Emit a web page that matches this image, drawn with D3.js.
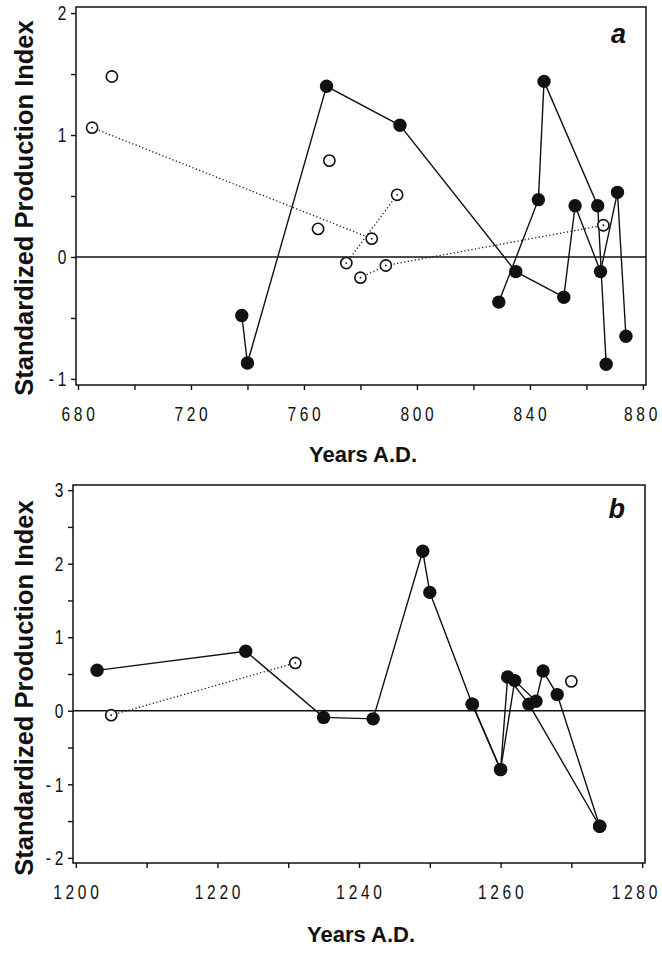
<!DOCTYPE html>
<html>
<head>
<meta charset="utf-8">
<script src="https://cdn.jsdelivr.net/npm/d3@7"></script>
<style>
  body { margin: 0; background: #fff; }
  svg { display: block; }
  .tick text { font-family: "Liberation Sans", Arial, sans-serif; font-size: 21px; letter-spacing: 5px; fill: #111; }
  .tick line { stroke: #111; stroke-width: 1.4; }
  .axis-title { font-family: "Liberation Sans", Arial, sans-serif; font-weight: bold; fill: #111; }
</style>
</head>
<body>
<svg id="chart" width="662" height="953"></svg>
<script>
// ---- panel a : 680-880 A.D. ----
const aSolid1Years  = [738, 740, 768, 794, 835, 852, 856, 865, 871, 874];
const aSolid1Values = [-0.48, -0.87, 1.40, 1.08, -0.12, -0.33, 0.42, -0.12, 0.53, -0.65];
const aSolid2Years  = [829, 843, 845, 864, 867];
const aSolid2Values = [-0.37, 0.47, 1.44, 0.42, -0.88];
const aDotted1Years  = [685, 784];
const aDotted1Values = [1.06, 0.15];
const aDotted2Years  = [775, 793];
const aDotted2Values = [-0.05, 0.51];
const aDotted3Years  = [780, 789, 866];
const aDotted3Values = [-0.17, -0.07, 0.26];
const aOpenYears  = [692, 765, 769];
const aOpenValues = [1.48, 0.23, 0.79];
const aXTicks = [680, 720, 760, 800, 840, 880];
const aYTicks = [-1, 0, 1, 2];

// ---- panel b : 1200-1280 A.D. ----
const bSolid1Years  = [1203, 1224, 1235, 1242, 1249, 1250, 1256, 1260, 1261, 1264, 1274];
const bSolid1Values = [0.55, 0.81, -0.09, -0.11, 2.17, 1.61, 0.09, -0.80, 0.46, 0.09, -1.57];
const bSolid2Years  = [1256, 1260, 1262, 1265, 1266, 1268, 1274];
const bSolid2Values = [0.09, -0.80, 0.41, 0.13, 0.54, 0.22, -1.57];
const bDotted1Years  = [1205, 1231];
const bDotted1Values = [-0.06, 0.65];
const bOpenYears  = [1270];
const bOpenValues = [0.40];
const bXTicks = [1200, 1220, 1240, 1260, 1280];
const bYTicks = [-2, -1, 0, 1, 2, 3];

const zip = (xs, ys) => xs.map((x, i) => ({ year: x, value: ys[i] }));
const narrow = 0.74; // squeeze tick digits like the original narrow typeface

const svg = d3.select("#chart");

function drawPanel(p) {
  const x = d3.scaleLinear().domain(p.xDomain).range([p.left, p.right]);
  const y = d3.scaleLinear().domain(p.yDomain).range([p.bottom, p.top]);
  const g = svg.append("g");

  // frame
  g.append("rect")
    .attr("x", p.left).attr("y", p.top)
    .attr("width", p.right - p.left).attr("height", p.bottom - p.top)
    .attr("fill", "none").attr("stroke", "#111").attr("stroke-width", 1.5);

  // zero line
  g.append("line")
    .attr("x1", p.left).attr("x2", p.right)
    .attr("y1", y(0)).attr("y2", y(0))
    .attr("stroke", "#111").attr("stroke-width", 1.5);

  // axes (major + minor ticks, labels only on majors)
  const yAxis = d3.axisLeft(y)
    .tickValues(d3.range(p.yTicks[0], p.yTicks[p.yTicks.length - 1] + 0.01, 0.5))
    .tickSize(5).tickSizeOuter(0).tickPadding(0)
    .tickFormat(d => p.yTicks.includes(d) ? d3.format("d")(d).replace("−", "-") : "");
  g.append("g").attr("transform", `translate(${p.left},0)`).call(yAxis)
    .call(s => s.select(".domain").remove())
    .call(s => s.selectAll("text")
      .attr("x", -6 / narrow)
      .attr("transform", `scale(${narrow},1)`));

  const xAxis = d3.axisBottom(x)
    .tickValues(d3.range(p.xTicks[0], p.xTicks[p.xTicks.length - 1] + 1, p.minorStep))
    .tickSize(5).tickSizeOuter(0).tickPadding(p.xPad)
    .tickFormat(d => p.xTicks.includes(d) ? d : "");
  g.append("g").attr("transform", `translate(0,${p.bottom})`).call(xAxis)
    .call(s => s.select(".domain").remove())
    .call(s => s.selectAll("text")
      .attr("dx", 2)
      .attr("transform", `scale(${narrow},1)`))
    // keep the last year label inside the page
    .call(s => s.selectAll("text").each(function() {
      const over = this.getBoundingClientRect().right - 661;
      if (over > 0) d3.select(this).attr("dx", 2 - over / narrow);
    }));

  const line = d3.line().x(d => x(d.year)).y(d => y(d.value));

  // dotted series (open circles)
  p.dotted.forEach(s => {
    g.append("path").datum(s).attr("d", line)
      .attr("fill", "none").attr("stroke", "#111")
      .attr("stroke-width", 1.3).attr("stroke-dasharray", "1.2,2.4");
  });

  // solid series (filled circles)
  p.solid.forEach(s => {
    g.append("path").datum(s).attr("d", line)
      .attr("fill", "none").attr("stroke", "#111").attr("stroke-width", 1.4);
  });

  const openPts = p.dotted.flat().concat(p.open);
  g.selectAll(".open").data(openPts).join("circle")
    .attr("cx", d => x(d.year)).attr("cy", d => y(d.value)).attr("r", 5.6)
    .attr("fill", "#fff").attr("stroke", "#111").attr("stroke-width", 1.6);
  g.selectAll(".cdot").data(p.dotted.flat()).join("circle")
    .attr("cx", d => x(d.year)).attr("cy", d => y(d.value)).attr("r", 0.9)
    .attr("fill", "#111");

  g.selectAll(".filled").data(p.solid.flat()).join("circle")
    .attr("cx", d => x(d.year)).attr("cy", d => y(d.value)).attr("r", 6.7)
    .attr("fill", "#111");

  // panel letter
  g.append("text")
    .attr("x", p.right - 20).attr("y", p.top + p.letterDy)
    .attr("text-anchor", "end")
    .style("font-family", "'Liberation Sans', Arial, sans-serif")
    .style("font-weight", "bold").style("font-style", "italic")
    .style("font-size", "27px").attr("fill", "#111")
    .text(p.letter);

  // axis titles
  g.append("text").attr("class", "axis-title")
    .attr("transform", `translate(33,${(p.top + p.bottom) / 2 + p.yTitleShift}) rotate(-90)`)
    .attr("text-anchor", "middle").style("font-size", "25.5px")
    .text("Standardized Production Index");

  g.append("text").attr("class", "axis-title")
    .attr("x", (p.left + p.right) / 2 + 2).attr("y", p.titleY)
    .attr("text-anchor", "middle").style("font-size", "22px")
    .text("Years A.D.");
}

drawPanel({
  left: 76, right: 646, top: 7, bottom: 385,
  xDomain: [679.3, 881.1], yDomain: [-1.05, 2.05],
  xTicks: aXTicks, yTicks: aYTicks, minorStep: 20, xPad: 16,
  solid: [zip(aSolid1Years, aSolid1Values), zip(aSolid2Years, aSolid2Values)],
  dotted: [zip(aDotted1Years, aDotted1Values), zip(aDotted2Years, aDotted2Values), zip(aDotted3Years, aDotted3Values)],
  open: zip(aOpenYears, aOpenValues),
  letter: "a", letterDy: 36, titleY: 462, yTitleShift: 12
});

drawPanel({
  left: 73, right: 645, top: 485, bottom: 863,
  xDomain: [1199.6, 1280.4], yDomain: [-2.07, 3.07],
  xTicks: bXTicks, yTicks: bYTicks, minorStep: 10, xPad: 16,
  solid: [zip(bSolid1Years, bSolid1Values), zip(bSolid2Years, bSolid2Values)],
  dotted: [zip(bDotted1Years, bDotted1Values)],
  open: zip(bOpenYears, bOpenValues),
  letter: "b", letterDy: 33, titleY: 942, yTitleShift: 14
});
</script>
</body>
</html>
